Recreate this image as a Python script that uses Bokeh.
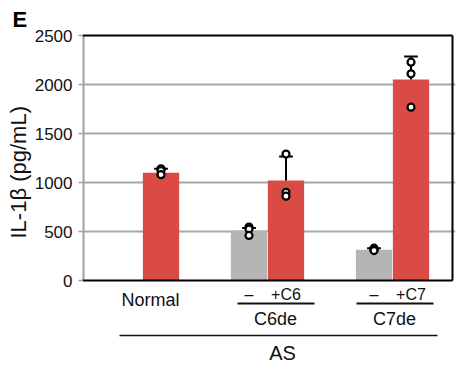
from bokeh.plotting import figure
from bokeh.models import Range1d, FixedTicker, Title
from bokeh.core.properties import value
from bokeh.embed import file_html
from bokeh.resources import INLINE

# ---- data ----
groups = ["Normal", "C6de", "C7de"]
parent_group = "AS"
gray_means = [0, 510, 315]
red_means = [1100, 1020, 2050]
gray_err = [0, 25, 15]
red_err = [40, 245, 235]
gray_points = [[], [545, 525, 460], [330, 310, 305]]
red_points = [[1140, 1120, 1080], [1290, 900, 860], [2228, 2109, 1769]]
sub_labels = [None, ["–", "+C6"], ["–", "+C7"]]
y_ticks = [0, 500, 1000, 1500, 2000, 2500]

FONT = "Liberation Sans"
RED = "#d94b44"
GRAY = "#b5b5b5"

W, H = 456, 366
FL, FR, FT, FB = 82, 455, 33, 366      # frame box in pixels
PX_PER_X = 125.0
PX_PER_Y = 0.098
BASE = 280                              # pixel row of y = 0
X0 = 0.52
X1 = X0 + (FR - FL) / PX_PER_X
Y0 = (BASE - FB) / PX_PER_Y
Y1 = (BASE - FT) / PX_PER_Y

def X(px):
    return X0 + (px - FL) / PX_PER_X

def Y(py):
    return (BASE - py) / PX_PER_Y

p = figure(width=W, height=H, output_backend="svg", toolbar_location=None,
           x_range=Range1d(X0, X1), y_range=Range1d(Y0, Y1),
           min_border_left=FL, min_border_right=W - FR,
           min_border_top=FT, min_border_bottom=H - FB)
p.outline_line_color = None
p.background_fill_color = "white"
p.border_fill_color = "white"
p.xaxis.visible = False
p.xgrid.visible = False

p.title = Title(text="E", align="left", offset=-70, standoff=4, text_font=FONT,
                text_font_size="22px", text_font_style="bold", text_color="black")

p.yaxis.ticker = FixedTicker(ticks=y_ticks)
p.yaxis.axis_label = None
p.yaxis.major_label_text_font = FONT
p.yaxis.major_label_text_font_size = "17px"
p.yaxis.major_label_text_color = "#111111"
p.yaxis.major_label_standoff = 6
p.yaxis.axis_line_color = None
p.yaxis.major_tick_line_color = "#a0a0a0"
p.yaxis.major_tick_line_width = 1.5
p.yaxis.major_tick_out = 4
p.yaxis.major_tick_in = 0
p.yaxis.minor_tick_line_color = None
p.ygrid.ticker = FixedTicker(ticks=y_ticks[1:-1])
p.ygrid.grid_line_color = "#a8a8a8"
p.ygrid.grid_line_width = 2

p.add_layout(Title(text="IL-1β (pg/mL)", align="left", offset=128, standoff=2,
                   text_font=FONT, text_font_size="22px", text_font_style="normal",
                   text_color="#111111"),
             "left")

ymax = y_ticks[-1]
# frame lines: left gray axis, top and right black
p.segment(x0=[X0], y0=[0], x1=[X0], y1=[ymax], line_color="#a0a0a0", line_width=4)
p.segment(x0=[X0], y0=[ymax], x1=[X(452)], y1=[ymax], line_color="black", line_width=2)
p.segment(x0=[X(452)], y0=[0], x1=[X(452)], y1=[ymax], line_color="black", line_width=2)

centers = [1 + i for i in range(len(groups))]
off = 0.148
bw = 0.29
gx = [c - off for c in centers]
rx = [c + off for c in centers]

p.vbar(x=gx, top=gray_means, width=bw, fill_color=GRAY, line_color=None)
p.vbar(x=rx, top=red_means, width=bw, fill_color=RED, line_color=None)
p.segment(x0=[X0], y0=[0], x1=[X(452)], y1=[0], line_color="black", line_width=2)

# error bars (upward)
cap = 0.055
for xs, m, e in [(gx, gray_means, gray_err), (rx, red_means, red_err)]:
    for x, mm, ee in zip(xs, m, e):
        if ee <= 0:
            continue
        p.segment(x0=[x], y0=[mm], x1=[x], y1=[mm + ee], line_color="black", line_width=2)
        p.segment(x0=[x - cap], y0=[mm + ee], x1=[x + cap], y1=[mm + ee], line_color="black", line_width=2)

px_, py_ = [], []
for xs, pts in [(gx, gray_points), (rx, red_points)]:
    for x, vals in zip(xs, pts):
        for v in vals:
            px_.append(x)
            py_.append(v)
p.scatter(x=px_, y=py_, size=7, marker="circle", fill_color="white",
          line_color="black", line_width=2.2)

def label(text, x, y, size, style="normal"):
    p.text(x=[x], y=[y], text=[text], text_font=value(FONT), text_font_size=size,
           text_font_style=style, text_align="center", text_baseline="middle",
           text_color="#111111")

def hline(xa, xb, y, w=2):
    p.segment(x0=[xa], y0=[y], x1=[xb], y1=[y], line_color="#111111", line_width=w)

label(groups[0], X(150), Y(299), "18px")
for i in (1, 2):
    label(sub_labels[i][0], gx[i], Y(294), "16px")
    label(sub_labels[i][1], rx[i], Y(294), "16px")
label(groups[1], X(275), Y(318), "18px")
label(groups[2], X(394), Y(318), "18px")
hline(X(237), X(314), Y(303))
hline(X(356), X(433), Y(303))
hline(X(119), X(437), Y(335), 1.5)
label(parent_group, X(282), Y(352), "20px")

open("out.html", "w").write(file_html(p, INLINE))
